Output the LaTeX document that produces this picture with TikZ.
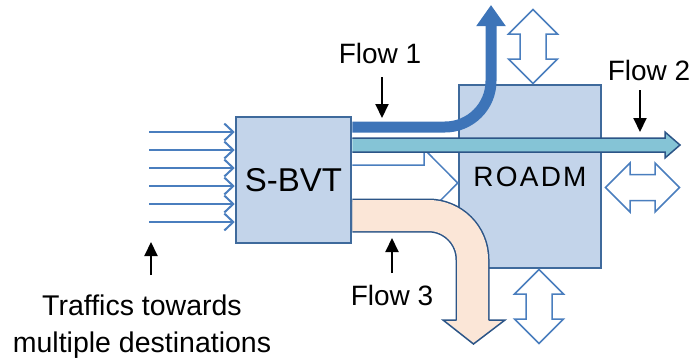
\documentclass[tikz,border=0pt]{standalone}
\usepackage{fontspec}
\setmainfont{Liberation Sans}
\usepackage{tikz}
\usetikzlibrary{arrows.meta,calc,positioning}
\definecolor{boxfill}{HTML}{C3D4EA}
\definecolor{boxline}{HTML}{3F6A9C}
\definecolor{flowblue}{HTML}{3D74B8}
\definecolor{inblue}{HTML}{4A7EBE}
\definecolor{flowcyan}{HTML}{85C4D6}
\definecolor{flowpeach}{HTML}{FBE6D7}
\definecolor{flowline}{HTML}{2C5587}

\begin{document}
\begin{tikzpicture}[x=1pt,y=-1pt,
	box/.style={draw=boxline, fill=boxfill, line width=2.5pt, inner sep=0pt},
	lbl/.style={font=\fontsize{28}{34}\selectfont, inner sep=0pt, anchor=base},
	pointer/.style={line width=2pt, -{Triangle[length=14pt,width=13pt]}},
	feed/.style={inblue, line width=2pt, -{Straight Barb[length=9pt,width=17pt]}},
	hollow/.style={draw=inblue, fill=white, line width=1.5pt, line join=miter},
	flowedge/.style={draw=flowline, line width=1.5pt, line join=miter}]
\useasboundingbox (0,0) rectangle (694,362);
% nodes
\node[box, minimum width=142pt, minimum height=183pt, font=\fontsize{28}{34}\selectfont] (roadm) at (530,176.5) {\addfontfeature{LetterSpace=8}ROADM};
\foreach \cx/\cy/\ang in {533/46.5/90, 539/306.5/90, 642.5/187.5/0}
	\draw[hollow, shift={(\cx,\cy)}, rotate=\ang] (-37,0) -- (-12.5,-24.5) -- (-12.5,-13) -- (12.5,-13) -- (12.5,-24.5) -- (37,0) -- (12.5,24.5) -- (12.5,13) -- (-12.5,13) -- (-12.5,24.5) -- cycle;
\node[box, minimum width=115pt, minimum height=126pt, font=\fontsize{33}{40}\selectfont] (sbvt) at (293.5,180) {S-BVT};
\coordinate (f1tip) at (491,5);
\coordinate (f2tip) at (680,145);
\coordinate (f3tip) at (473.5,344);
% input traffic
\foreach \y in {132,150,168,186,204,222}
	\draw[feed] (149,\y) -- (sbvt.west |- 0,\y);
% flows
\draw[hollow] (sbvt.east |- 0,165) -- (424,165) -- (424,149) -- (roadm.west |- 0,183) -- (424,217) -- (424,201) -- (sbvt.east |- 0,201);
\draw[flowline, line width=34pt, rounded corners=44pt] (sbvt.east |- 0,215.5) -| (472.5,320.5);
\draw[flowpeach, line width=31pt, rounded corners=44pt] (sbvt.east |- 0,215.5) -| (472.5,321.5);
\fill[flowpeach] (443,320) -- (f3tip) -- (505,320) -- cycle;
\draw[flowedge] (456.5,320) -- (443,320) -- (f3tip) -- (505,320) -- (488.5,320);
\filldraw[flowedge, fill=flowcyan] (sbvt.east |- 0,138) -- (665,138) -- (665,132) -- (f2tip) -- (665,158) -- (665,152) -- (sbvt.east |- 0,152);
\draw[flowblue, line width=11pt, rounded corners=46pt, -{Triangle[length=21pt,width=28pt]}] (sbvt.east |- 0,127) -| (f1tip);
% labels
\node[lbl] (flow1) at (380,63) {Flow 1};
\node[lbl] (flow2) at (649,80) {Flow 2};
\node[lbl] (flow3) at (392,305) {Flow 3};
\node[lbl, font=\fontsize{28.5}{37}\selectfont, align=center, anchor=north] (traffic) at (142,295) {Traffics towards\\multiple destinations};
\coordinate (p1) at (382,118);
\coordinate (p2) at (640,132);
\coordinate (p3) at (392,238);
\coordinate (p4) at (151,242);
\draw[pointer] (382,77) -- (p1);
\draw[pointer] (640,90) -- (p2);
\draw[pointer] (392,273) -- (p3);
\draw[pointer] (151,275) -- (p4);
\end{tikzpicture}
\end{document}
